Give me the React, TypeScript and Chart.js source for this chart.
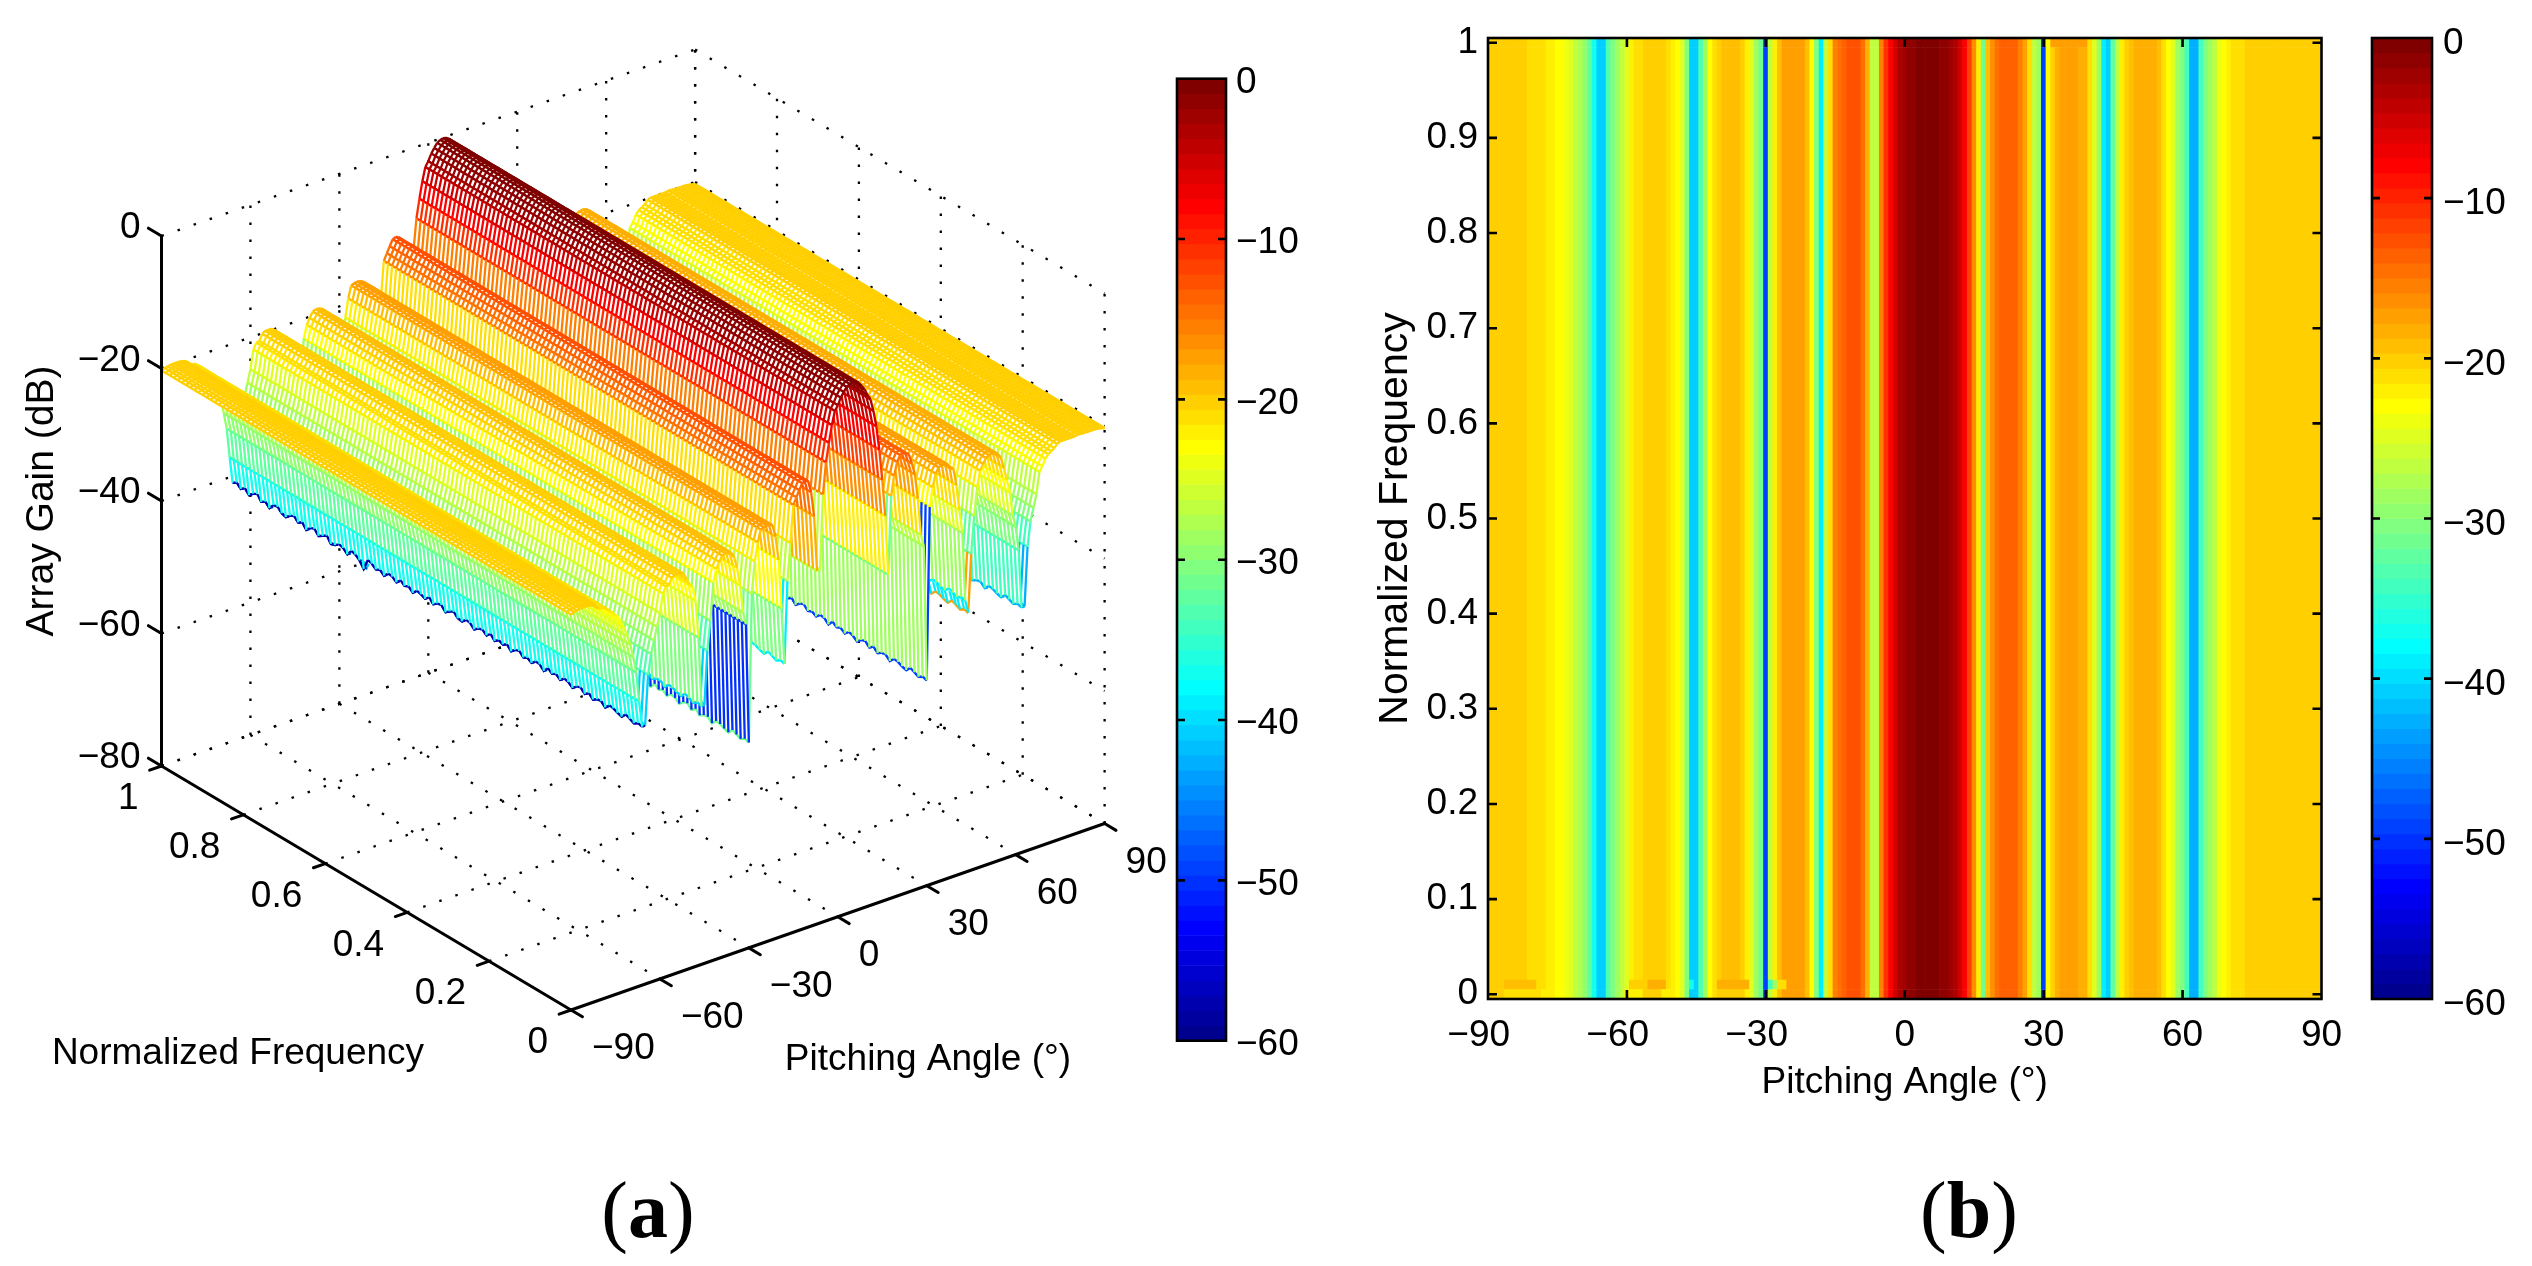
import React, { useEffect, useRef } from "react";
import { Chart, registerables } from "chart.js";

Chart.register(...registerables);

const pitchAngles = [
  -90,-89,-88,-87,-86,-85,-84,-83,-82,-81,-80,-79,-78,-77,-76,-75,-74,-73,-72,-71,
  -70,-69,-68,-67,-66,-65,-64,-63,-62,-61,-60,-59,-58,-57,-56,-55,-54,-53,-52,-51,
  -50,-49,-48,-47,-46,-45,-44,-43,-42,-41,-40,-39,-38,-37,-36,-35,-34,-33,-32,-31,
  -30,-29,-28,-27,-26,-25,-24,-23,-22,-21,-20,-19,-18,-17,-16,-15,-14,-13,-12,-11,
  -10,-9,-8,-7,-6,-5,-4,-3,-2,-1,0,1,2,3,4,5,6,7,8,9,
  10,11,12,13,14,15,16,17,18,19,20,21,22,23,24,25,26,27,28,29,
  30,31,32,33,34,35,36,37,38,39,40,41,42,43,44,45,46,47,48,49,
  50,51,52,53,54,55,56,57,58,59,60,61,62,63,64,65,66,67,68,69,
  70,71,72,73,74,75,76,77,78,79,80,81,82,83,84,85,86,87,88,89,90,
];

const gainDb = [
  -20.3,-20.1,-20,-19.9,-19.9,-19.9,-19.9,-20,-20.1,-20.8,-21,-21,-21.3,-21.8,-22.2,-22.8,-23.2,-24.2,-25.2,-26.5,
  -28,-30,-32.5,-37,-41,-41,-33.5,-30.5,-28.6,-26.7,-24.8,-22,-21.1,-21,-20.1,-19.8,-19.8,-19.8,-20.1,-21.1,
  -22,-22.6,-24.8,-30.5,-41,-41,-33,-28.6,-23,-21.1,-20.2,-19.4,-19.2,-19.2,-19.4,-20.2,-22,-24.8,-29,-31,
  -49,-26.7,-22,-19.3,-17.5,-17.3,-17.2,-17.3,-17.5,-19.3,-23,-30.5,-39,-26.7,-21.1,-15.5,-14.5,-13.6,-12.7,-12.5,
  -12.7,-14.5,-18.3,-26.7,-26.7,-15.5,-10.8,-8,-5.5,-3.5,-2.8,-1.8,-1.1,-0.5,-0.2,-0.1,-0.2,-0.5,-1.1,-1.8,
  -2.8,-3.6,-5.5,-8,-11.7,-16.4,-22,-31,-19.3,-16.4,-14.5,-13.6,-13.4,-13.7,-14,-15.5,-17.3,-21.1,-26.7,-28.6,
  -49,-23,-20.2,-18.3,-17.5,-17.3,-17.3,-17.5,-18.3,-18.5,-21.1,-25,-28.6,-39,-41,-32.3,-26.7,-22.5,-20.2,-19.3,
  -18.6,-18.3,-18.2,-18.3,-18.6,-19.3,-21,-23,-25,-28.6,-30.5,-34.2,-43,-43,-34.2,-30.5,-28.6,-26.7,-23.5,-22.8,
  -21.8,-21.3,-21,-20.7,-20.2,-20,-20,-20,-20,-20,-20,-19.9,-19.9,-20,-20,-20,-20,-20,-20.1,-20.2,-20.3,
];

const normalizedFrequencies = [
  1,0.99,0.98,0.97,0.96,0.95,0.94,0.93,0.92,0.91,0.9,0.89,0.88,0.87,0.86,0.85,0.84,0.83,0.82,0.81,
  0.8,0.79,0.78,0.77,0.76,0.75,0.74,0.73,0.72,0.71,0.7,0.69,0.68,0.67,0.66,0.65,0.64,0.63,0.62,0.61,
  0.6,0.59,0.58,0.57,0.56,0.55,0.54,0.53,0.52,0.51,0.5,0.49,0.48,0.47,0.46,0.45,0.44,0.43,0.42,0.41,
  0.4,0.39,0.38,0.37,0.36,0.35,0.34,0.33,0.32,0.31,0.3,0.29,0.28,0.27,0.26,0.25,0.24,0.23,0.22,0.21,
  0.2,0.19,0.18,0.17,0.16,0.15,0.14,0.13,0.12,0.11,0.1,0.09,0.08,0.07,0.06,0.05,0.04,0.03,0.02,0.01,0,
];

// small frequency ripple on the deep nulls, read from the jagged lower edge
const nullRippleDb = [
  0,0.4,-0.2,0.3,-0.4,0.2,0.5,-0.3,0.1,-0.5,0.3,0.4,-0.2,-0.4,0.2,0.5,-0.1,0.3,-0.5,0.2,
  0.4,-0.3,0.1,0.5,-0.4,-0.2,0.3,0.1,-0.5,0.4,0.2,-0.3,-1.2,0.5,0.3,-0.2,0.1,-0.4,0.3,0.2,
  -0.3,0.4,-0.1,0.2,-0.4,0.3,0.1,-0.2,0.4,-0.3,0.2,0.3,-0.4,0.1,0.4,-0.2,-0.3,0.3,0.2,-0.4,
  0.1,0.3,-0.2,0.4,-0.3,0.2,-0.1,0.3,-0.4,0.2,0.4,-0.2,0.1,-0.3,0.3,0.2,-0.4,0.4,-0.1,0.2,
  -0.3,0.3,0.1,-0.4,0.2,0.4,-0.2,0.3,-0.3,0.1,0.2,-0.4,0.3,0.2,-0.1,-0.3,0.4,0.1,-0.2,0.2,0,
];

// colour data of individual mesh lines that differs from their height
const meshColourOverrides: [number, number][] = [[-66, -58], [-31, -50], [-30, -31], [44, -17]];

const rowNearZeroOverrides: [number, number, number][] = [
  [-86, -80, -19.3], [-59, -56, -20.2], [-55, -52, -18.3], [-46, -46, -37.5],
  [-40, -34, -18.3], [-29, -29, -34], [-28, -28, -28.6], [-27, -26, -21.5],
];
const rowZeroOverrides: [number, number, number][] = [
  [-86, -79, -21], [-78, -77, -22], [-60, -57, -22], [-52, -50, -22], [-40, -36, -20.2],
];
const rowTopOverrides: [number, number, number][] = [[32, 39, -17.3]];
const heatRowEdges = [-0.005, 0.005, 0.015, 0.995, 1.005];

const angleTicks = [-90, -60, -30, 0, 30, 60, 90];
const freqTicks3d = [0, 0.2, 0.4, 0.6, 0.8, 1];
const freqTicksHeat = [0, 0.1, 0.2, 0.3, 0.4, 0.5, 0.6, 0.7, 0.8, 0.9, 1];
const gainTicks3d = [-80, -60, -40, -20, 0];
const colorbarTicks = [-60, -50, -40, -30, -20, -10, 0];
const JET_LEVELS = 64;

const FONT = "'Liberation Sans', Arial, sans-serif";
const FS = 37;
const MINUS = "\u2212";
const signed = (v: number) => String(v).replace("-", MINUS);

// the 64 steps of the jet colour map
const jetRamp = (i: number) => (i < 1 ? 0 : i <= 16 ? i / 16 : i <= 32 ? 1 : i <= 47 ? (48 - i) / 16 : 0);
function jet(db: number) {
  const n = Math.max(1, Math.min(JET_LEVELS, Math.floor(((db + 60) / 60) * JET_LEVELS) + 1));
  const ch = (i: number) => Math.round(255 * jetRamp(i));
  return `rgb(${ch(n - 24)},${ch(n - 8)},${ch(n + 8)})`;
}

// oblique projection of the 3-D box on the scales of the left chart
const ANGLE_SHARE = 0.5658;
const FREQ_SHARE = 0.4342;
const FREQ_DROP_DB = 36.83;
const ANGLE_RISE_DB = 28.15;
const projX = (a: number, f: number) => ((a + 90) / 180) * ANGLE_SHARE + (1 - f) * FREQ_SHARE;
const projY = (a: number, f: number, z: number) => z - FREQ_DROP_DB * (1 - f) + ANGLE_RISE_DB * ((a + 90) / 180);

function buildMeshDatasets() {
  const colourDb = gainDb.slice();
  meshColourOverrides.forEach(([a, d]) => { colourDb[pitchAngles.indexOf(a)] = d; });
  const zAt = (i: number, j: number) => gainDb[i] + (gainDb[i] < -38 ? nullRippleDb[j] : 0);
  const sets: any[] = [];
  for (let i = 0; i < pitchAngles.length - 1; i++) {
    const a0 = pitchAngles[i];
    const a1 = pitchAngles[i + 1];
    const pts: any[] = [];
    const cols: string[] = [];
    const push = (x: number, y: number, c: string) => { pts.push({ x, y }); cols.push(c); };
    const gap = () => push(NaN, NaN, "#fff");
    normalizedFrequencies.forEach((f, j) => push(projX(a1, f), projY(a1, f, zAt(i + 1, j)), jet(colourDb[i + 1])));
    gap();
    normalizedFrequencies.forEach((f, j) => {
      push(projX(a0, f), projY(a0, f, zAt(i, j)), jet(colourDb[i]));
      push(projX(a1, f), projY(a1, f, zAt(i + 1, j)), jet(colourDb[i]));
      gap();
    });
    normalizedFrequencies.forEach((f, j) => push(projX(a0, f), projY(a0, f, zAt(i, j)), jet(colourDb[i])));
    sets.push({
      data: pts,
      parsing: false,
      showLine: true,
      pointRadius: 0,
      borderWidth: 2.3,
      borderColor: cols[0],
      fill: false,
      spanGaps: false,
      clip: false,
      borderCapStyle: "butt",
      segment: { borderColor: (ctx: any) => cols[ctx.p0DataIndex] },
    });
    const f1 = normalizedFrequencies[0];
    const f0 = normalizedFrequencies[normalizedFrequencies.length - 1];
    sets.push({
      data: [
        { x: projX(a0, f1), y: projY(a0, f1, gainDb[i]) },
        { x: projX(a1, f1), y: projY(a1, f1, gainDb[i + 1]) },
        { x: projX(a1, f0), y: projY(a1, f0, gainDb[i + 1]) },
        { x: projX(a0, f0), y: projY(a0, f0, gainDb[i]) },
      ],
      parsing: false,
      showLine: true,
      pointRadius: 0,
      borderWidth: 0,
      backgroundColor: "#fff",
      fill: "shape",
      clip: false,
    });
  }
  return sets;
}

const box3dPlugin = {
  id: "box3d",
  beforeDatasetsDraw(chart: any) {
    const { ctx, scales } = chart;
    const X = (a: number, f: number) => scales.x.getPixelForValue(projX(a, f));
    const Y = (a: number, f: number, z: number) => scales.y.getPixelForValue(projY(a, f, z));
    const seg = (a0: number, f0: number, z0: number, a1: number, f1: number, z1: number) => {
      ctx.beginPath();
      ctx.moveTo(X(a0, f0), Y(a0, f0, z0));
      ctx.lineTo(X(a1, f1), Y(a1, f1, z1));
      ctx.stroke();
    };
    ctx.save();
    ctx.strokeStyle = "#000";
    ctx.lineWidth = 2.3;
    ctx.setLineDash([2.5, 14.5]);
    angleTicks.forEach((a) => {
      if (a > -90) seg(a, 1, -80, a, 0, -80);
      if (a > -90) seg(a, 1, -80, a, 1, 0);
    });
    freqTicks3d.forEach((f) => {
      if (f > 0) seg(-90, f, -80, 90, f, -80);
      if (f < 1) seg(90, f, -80, 90, f, 0);
    });
    gainTicks3d.forEach((z) => {
      seg(-90, 1, z, 90, 1, z);
      seg(90, 1, z, 90, 0, z);
    });
    seg(90, 1, -80, 90, 1, 0);
    ctx.restore();
  },
  afterDatasetsDraw(chart: any) {
    const { ctx, scales } = chart;
    const X = (a: number, f: number) => scales.x.getPixelForValue(projX(a, f));
    const Y = (a: number, f: number, z: number) => scales.y.getPixelForValue(projY(a, f, z));
    const seg = (a0: number, f0: number, z0: number, a1: number, f1: number, z1: number) => {
      ctx.beginPath();
      ctx.moveTo(X(a0, f0), Y(a0, f0, z0));
      ctx.lineTo(X(a1, f1), Y(a1, f1, z1));
      ctx.stroke();
    };
    ctx.save();
    ctx.strokeStyle = "#000";
    ctx.fillStyle = "#000";
    ctx.lineWidth = 3;
    ctx.lineCap = "round";
    seg(-90, 1, -80, -90, 1, 0);
    seg(-90, 1, -80, -90, 0, -80);
    seg(-90, 0, -80, 90, 0, -80);
    gainTicks3d.forEach((z) => seg(-90, 1, z, -90, 1.032, z));
    freqTicks3d.forEach((f) => seg(-90, f, -80, -94, f, -80));
    angleTicks.forEach((a) => seg(a, 0, -80, a, -0.028, -80));
    ctx.lineCap = "butt";
    ctx.font = `${FS}px ${FONT}`;
    ctx.textBaseline = "middle";
    ctx.textAlign = "right";
    freqTicks3d.forEach((f) => ctx.fillText(String(f), X(-90, f) - 23, Y(-90, f, -80) + 33));
    ctx.textAlign = "left";
    angleTicks.forEach((a) => ctx.fillText(signed(a), X(a, 0) + 21, Y(a, 0, -80) + 39));
    ctx.textAlign = "center";
    ctx.fillText("Normalized Frequency", 238, 1054);
    ctx.fillText("Pitching Angle (\u00b0)", 928, 1060);
    ctx.translate(42, 501);
    ctx.rotate(-Math.PI / 2);
    ctx.font = `39px ${FONT}`;
    ctx.fillText("Array Gain (dB)", 0, 0);
    ctx.restore();
  },
};

const framePlugin = (xTickValues: number[], yTickValues: number[], len: number) => ({
  id: "frame",
  afterDatasetsDraw(chart: any) {
    const { ctx, chartArea: c, scales } = chart;
    ctx.save();
    ctx.strokeStyle = "#000";
    ctx.lineWidth = 2.6;
    ctx.strokeRect(c.left, c.top, c.right - c.left, c.bottom - c.top);
    ctx.beginPath();
    xTickValues.forEach((v) => {
      const p = scales.x.getPixelForValue(v);
      ctx.moveTo(p, c.bottom); ctx.lineTo(p, c.bottom - len);
      ctx.moveTo(p, c.top); ctx.lineTo(p, c.top + len);
    });
    yTickValues.forEach((v) => {
      const p = scales.y.getPixelForValue(v);
      ctx.moveTo(c.left, p); ctx.lineTo(c.left + len, p);
      ctx.moveTo(c.right, p); ctx.lineTo(c.right - len, p);
    });
    ctx.stroke();
    ctx.restore();
  },
});

const base = {
  responsive: false,
  maintainAspectRatio: false,
  animation: false,
  devicePixelRatio: 1,
  events: [],
  plugins: { legend: { display: false }, tooltip: { enabled: false } },
};

const tickFont = { family: FONT, size: FS };
const noPad = (s: any) => { s.paddingTop = 0; s.paddingBottom = 0; };

function meshConfig(): any {
  return {
    type: "scatter",
    data: { datasets: buildMeshDatasets() },
    plugins: [box3dPlugin],
    options: {
      ...base,
      layout: { padding: 0 },
      scales: {
        x: { type: "linear", display: false, min: 0, max: (1176 - 161.5) / 943.1 },
        y: {
          type: "linear",
          position: "left",
          min: -155.47,
          max: 35.62,
          grid: { display: false, drawTicks: false },
          border: { display: false },
          afterBuildTicks: (s: any) => { s.ticks = gainTicks3d.map((value) => ({ value })); },
          afterFit: (s: any) => { s.width = 161.5; noPad(s); },
          ticks: {
            font: tickFont, color: "#000", padding: 21, labelOffset: -8, autoSkip: false,
            callback: (v: number) => signed(v),
          },
        },
      },
    },
  };
}

function heatConfig(): any {
  const rowValues = (ov: [number, number, number][]) => {
    const r = gainDb.slice();
    ov.forEach(([from, to, d]) => {
      pitchAngles.forEach((a, i) => { if (a >= from && a <= to) r[i] = d; });
    });
    return r;
  };
  const rows = [rowZeroOverrides, rowNearZeroOverrides, [], rowTopOverrides].map(rowValues);
  const datasets = rows.map((vals, r) => ({
    data: pitchAngles.map((a) => ({ x: a, y: [heatRowEdges[r], heatRowEdges[r + 1]] })),
    backgroundColor: vals.map(jet),
    grouped: false,
    barPercentage: 1,
    categoryPercentage: 1,
    borderWidth: 0,
  }));
  return {
    type: "bar",
    data: { datasets },
    plugins: [framePlugin(angleTicks.slice(1, -1), freqTicksHeat, 9)],
    options: {
      ...base,
      layout: { padding: { top: 38, right: 38.5, left: 0, bottom: 0 } },
      scales: {
        x: {
          type: "linear", min: -90, max: 90, offset: false,
          grid: { display: false, drawTicks: false }, border: { display: false },
          afterBuildTicks: (s: any) => { s.ticks = angleTicks.map((value) => ({ value })); },
          afterFit: (s: any) => { s.height = 267; },
          ticks: {
            font: tickFont, color: "#000", padding: 15, autoSkip: false, maxRotation: 0,
            callback: (v: number) => (v < 0 ? signed(v) + "\u2002" : signed(v)),
          },
          title: {
            display: true, text: "Pitching Angle (\u00b0)", color: "#000",
            font: tickFont, padding: { top: 0, bottom: 161.4 },
          },
        },
        y: {
          type: "linear", min: heatRowEdges[0], max: heatRowEdges[4], position: "left",
          grid: { display: false, drawTicks: false }, border: { display: false },
          afterBuildTicks: (s: any) => { s.ticks = freqTicksHeat.map((value) => ({ value })); },
          afterFit: (s: any) => { s.width = 148; },
          ticks: { font: tickFont, color: "#000", padding: 10, autoSkip: false, callback: (v: number) => String(v) },
          title: {
            display: true, text: "Normalized Frequency", color: "#000",
            font: { family: FONT, size: 41 }, padding: { top: 31, bottom: 0 },
          },
        },
      },
    },
  };
}

function colorbarConfig(top: number, bottom: number, labelGap: number, labelOffset: number): any {
  const levels = Array.from({ length: JET_LEVELS }, (_, i) => -60 + ((i + 0.5) * 60) / JET_LEVELS);
  return {
    type: "bar",
    data: {
      datasets: [{
        data: levels.map((y) => ({ y, x: [0, 1] })),
        backgroundColor: levels.map(jet),
        barPercentage: 1,
        categoryPercentage: 1,
        borderWidth: 0,
      }],
    },
    plugins: [framePlugin([], colorbarTicks.slice(1, -1), 8)],
    options: {
      ...base,
      indexAxis: "y",
      layout: { padding: { top, bottom: 1266 - bottom, left: 10, right: 0 } },
      scales: {
        x: { type: "linear", display: false, min: 0, max: 1 },
        y: {
          type: "linear", min: -60, max: 0, position: "right", offset: false,
          grid: { display: false, drawTicks: false }, border: { display: false },
          afterBuildTicks: (s: any) => { s.ticks = colorbarTicks.map((value) => ({ value })); },
          afterFit: (s: any) => { s.width = 100; },
          ticks: {
            font: tickFont, color: "#000", padding: labelGap, labelOffset, autoSkip: false,
            callback: (v: number) => signed(v),
          },
        },
      },
    },
  };
}

const panels = [
  { key: "mesh", left: 0, width: 1176, config: meshConfig },
  { key: "cbA", left: 1167, width: 159, config: () => colorbarConfig(78.7, 1040.7, 10, 4) },
  { key: "heat", left: 1340, width: 1020, config: heatConfig },
  { key: "cbB", left: 2362, width: 170, config: () => colorbarConfig(38, 999, 11, 6) },
];

export default function App() {
  const refs = useRef<Record<string, HTMLCanvasElement | null>>({});
  useEffect(() => {
    const charts = panels.map((p) => new Chart(refs.current[p.key] as HTMLCanvasElement, p.config()));
    return () => charts.forEach((c) => c.destroy());
  }, []);
  const caption: React.CSSProperties = {
    position: "absolute", top: 1210, transform: "translate(-50%,-50%)",
    fontFamily: "'Liberation Serif', serif", fontSize: 80, color: "#000", lineHeight: 1,
  };
  return (
    <div style={{ position: "absolute", left: 0, top: 0, width: 2532, height: 1266, overflow: "hidden", background: "#fff" }}>
      {panels.map((p) => (
        <canvas
          key={p.key}
          ref={(el) => { refs.current[p.key] = el; }}
          width={p.width}
          height={1266}
          style={{ position: "absolute", left: p.left, top: 0, width: p.width, height: 1266 }}
        />
      ))}
      <div style={{ ...caption, left: 648 }}>(<b>a</b>)</div>
      <div style={{ ...caption, left: 1969 }}>(<b>b</b>)</div>
    </div>
  );
}
